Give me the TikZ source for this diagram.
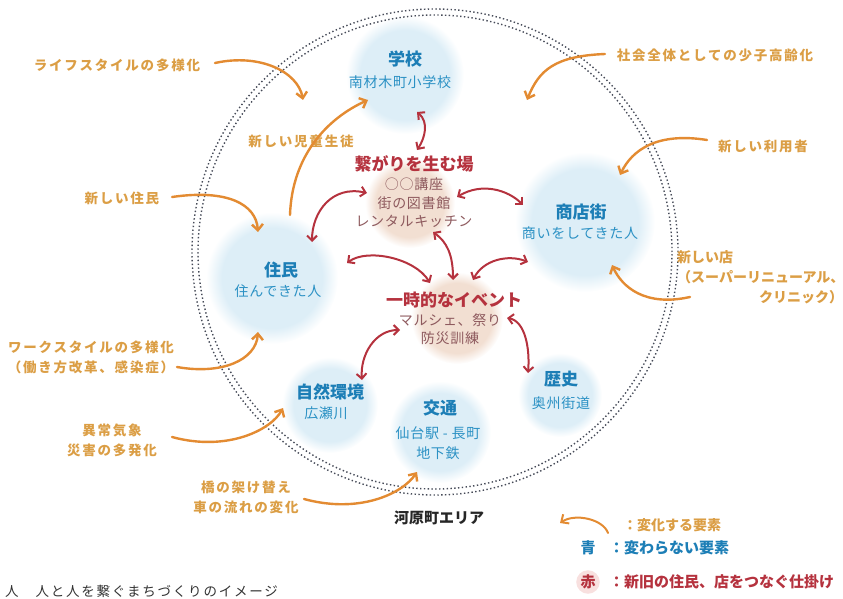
\documentclass[tikz,border=0pt]{standalone}
\usepackage{fontspec}
\setmainfont{Noto Sans CJK JP}
\newfontfamily\widefont[LetterSpace=13]{Noto Sans CJK JP}
\newfontfamily\subfont[LetterSpace=5]{Noto Sans CJK JP}
\usetikzlibrary{arrows.meta}
\pgfdeclarelayer{background}
\pgfsetlayers{background,main}
\definecolor{chgorange}{HTML}{DB9E45}
\definecolor{arrorange}{HTML}{E38B32}
\definecolor{keepblue}{HTML}{1C7EB6}
\definecolor{subblue}{HTML}{2B91C4}
\definecolor{linkred}{HTML}{B5323E}
\definecolor{subred}{HTML}{8E5A5E}
\definecolor{blobblue}{HTML}{DDEEF7}
\definecolor{blobbeige}{HTML}{F2DFD2}
\definecolor{ringgrey}{HTML}{464B58}
\definecolor{pinkmark}{HTML}{F8E0DF}
\pgfdeclareradialshading{blueblob}{\pgfpoint{0bp}{0bp}}{color(0bp)=(blobblue);
  color(19bp)=(blobblue); color(25bp)=(white); color(50bp)=(white)}
\pgfdeclareradialshading{beigeblob}{\pgfpoint{0bp}{0bp}}{color(0bp)=(blobbeige);
  color(19bp)=(blobbeige); color(25bp)=(white); color(50bp)=(white)}
\tikzstyle{bluehead}=[text=keepblue, font=\fontsize{17}{20}\selectfont\bfseries,
  inner sep=1pt]
\tikzstyle{bluesub}=[text=subblue, font=\fontsize{14}{20}\selectfont\subfont,
  align=center, inner sep=1pt]
\tikzstyle{redhead}=[text=linkred, font=\fontsize{17}{20}\selectfont\bfseries,
  inner sep=1pt]
\tikzstyle{redsub}=[text=subred, font=\fontsize{14}{18.5}\selectfont\subfont,
  align=center, inner sep=1pt]
\tikzstyle{change}=[text=chgorange,
  font=\fontsize{13.5}{20}\selectfont\widefont\bfseries, align=center, inner sep=1pt]
\tikzstyle{legendtxt}=[font=\fontsize{15}{17}\selectfont\bfseries, inner sep=1pt]
\tikzstyle{blob}=[circle, shade, inner sep=0pt]
\tikzstyle{ring}=[draw=ringgrey, line width=1.4pt, dash pattern=on 1.4pt off 2.4pt]
\tikzstyle{tie}=[draw=linkred, line width=2pt, line cap=round, <->,
  >={Straight Barb[length=5pt,width=10pt]}]
\tikzstyle{drift}=[draw=arrorange, line width=2.4pt, line cap=round, ->,
  >={Straight Barb[length=6pt,width=11pt]}]
\newcommand{\bluehead}[2]{node (#1) [bluehead] {#2}}
\newcommand{\bluesub}[2]{node (#1) [bluesub] {#2}}
\newcommand{\redhead}[2]{node (#1) [redhead] {#2}}
\newcommand{\redsub}[2]{node (#1) [redsub] {#2}}
\newcommand{\changelabel}[2]{node (#1) [change] {#2}}
\newcommand{\bgblob}[3]{node (#1) [blob, shading=#2, minimum size=#3] {}}

\begin{document}
\begin{tikzpicture}[x=1pt, y=-1pt]
\useasboundingbox (0,0) rectangle (843,599);
% Background blobs and area ring
\begin{pgfonlayer}{background}
  \path (405,75)  \bgblob{bSchool}{blueblob}{118pt};
  \path (585,222) \bgblob{bShop}{blueblob}{140pt};
  \path (272,278) \bgblob{bRes}{blueblob}{132pt};
  \path (330,405) \bgblob{bNature}{blueblob}{96pt};
  \path (440,432) \bgblob{bTraffic}{blueblob}{102pt};
  \path (560,395) \bgblob{bHistory}{blueblob}{84pt};
  \path (410,203) \bgblob{bHub}{beigeblob}{90pt};
  \path (457,318) \bgblob{bEvent}{beigeblob}{92pt};
\end{pgfonlayer}
\path [ring] (435,252) circle [radius=243pt];
\path [ring] (435,252) circle [radius=237pt];

% Draw diagram elements
\path (405,59)  \bluehead{school}{学校};
\path (400,82)  \bluesub{schoolsub}{南材木町小学校};
\path (414,164) \redhead{hub}{繋がりを生む場};
\path (414,203) \redsub{hubsub}{○○講座\\街の図書館\\レンタルキッチン};
\path (581,212) \bluehead{shop}{商店街};
\path (580,233) \bluesub{shopsub}{商いをしてきた人};
\path (281,270) \bluehead{res}{住民};
\path (278,291) \bluesub{ressub}{住んできた人};
\path (454,300) \redhead{event}{一時的なイベント};
\path (450,329) \redsub{eventsub}{マルシェ、祭り\\防災訓練};
\path (330,392) \bluehead{nature}{自然環境};
\path (326,413) \bluesub{naturesub}{広瀬川};
\path (440,408) \bluehead{traffic}{交通};
\path (438,443) \bluesub{trafficsub}{仙台駅 - 長町\\地下鉄};
\path (561,379) \bluehead{history}{歴史};
\path (561,403) \bluesub{historysub}{奥州街道};
\path (439,518) node (area) [legendtxt, text=black!85] {河原町エリア};

% Changing factors
\path (117,65)  \changelabel{lifestyle}{ライフスタイルの多様化};
\path (715,55)  \changelabel{aging}{社会全体としての少子高齢化};
\path (763,146) \changelabel{newusers}{新しい利用者};
\path (301,141) \changelabel{newpupils}{新しい児童生徒};
\path (122,198) \changelabel{newres}{新しい住民};
\path (91,357)  \changelabel{workstyle}{ワークスタイルの多様化\\（働き方改革、感染症）};
\path (112,440) \changelabel{climate}{異常気象\\災害の多発化};
\path (246,497) \changelabel{bridge}{橋の架け替え\\車の流れの変化};
\path (676,249) node (newshop) [change, anchor=north west, align=left,
  text width=166pt, font=\fontsize{14}{20}\selectfont\bfseries]
  {新しい店\\（スーパーリニューアル、\\\hfill クリニック）};

% Draw arrows between elements
\path [tie] ([shift={(17,30)}]schoolsub.center) .. controls +(12,10) and +(8,-12)
  .. ([shift={(3,-14)}]hub.center);
\path [tie] ([shift={(-47,-10)}]hubsub.center) .. controls +(-35,-8) and +(0,-30)
  .. ([shift={(31,-28)}]res.center);
\path [tie] ([shift={(43,-6)}]hubsub.center) .. controls +(25,-15) and +(-15,-15)
  .. ([shift={(-58,-7)}]shop.center);
\path [tie] ([shift={(19,29)}]hubsub.center) .. controls +(14,10) and +(0,-25)
  .. ([shift={(-1,-20)}]event.center);
\path [tie] ([shift={(66,-7)}]res.center) .. controls +(20,-15) and +(-15,-25)
  .. ([shift={(-24,-17)}]event.center);
\path [tie] ([shift={(19,-20)}]event.center) .. controls +(10,-20) and +(-20,-8)
  .. ([shift={(-52,29)}]shopsub.center);
\path [tie] ([shift={(-50,1)}]eventsub.center) .. controls +(-25,0) and +(-2,-25)
  .. ([shift={(32,-12)}]nature.center);
\path [tie] ([shift={(57,-11)}]eventsub.center) .. controls +(18,3) and +(2,-25)
  .. ([shift={(-33,-6)}]history.center);

% Arrows for changing factors
\path [drift] ([shift={(98,-2)}]lifestyle.center) .. controls +(45,-10) and +(-5,-28)
  .. ([shift={(-102,41)}]school.center);
\path [drift] ([shift={(-110,-1)}]aging.center) .. controls +(-50,2) and +(12,-30)
  .. ([shift={(122,41)}]school.center);
\path [drift] ([shift={(-56,-6)}]newusers.center) .. controls +(-50,-8) and +(12,-25)
  .. ([shift={(39,-37)}]shop.center);
\path [drift] ([shift={(9,-55)}]res.center) .. controls +(2,-60) and +(-40,18)
  .. ([shift={(-32,18)}]schoolsub.center);
\path [drift] ([shift={(50,-1)}]newres.center) .. controls +(55,-8) and +(-2,-28)
  .. ([shift={(-23,-38)}]res.center);
\path [drift] ([shift={(86,10)}]workstyle.center) .. controls +(45,8) and +(-2,28)
  .. ([shift={(-20,41)}]ressub.center);
\path [drift] ([shift={(60,-3)}]climate.center) .. controls +(55,15) and +(-12,22)
  .. ([shift={(-47,16)}]nature.center);
\path [drift] ([shift={(58,2)}]bridge.center) .. controls +(55,15) and +(-15,22)
  .. ([shift={(-21,29)}]trafficsub.center);
\path [drift] ([shift={(14,48)}]newshop.north west) .. controls +(-45,10) and +(10,22)
  .. ([shift={(32,32)}]shopsub.center);

% Legend
\path (672,525) node (legendchg) [change, font=\fontsize{14}{16}\selectfont\bfseries]
  {：変化する要素};
\path [drift, line width=2pt] ([shift={(-64,8)}]legendchg.center) .. controls +(-5,-14)
  and +(15,-10) .. ([shift={(-112,-2)}]legendchg.center);
\path (588,548) node (bluemark) [legendtxt, text=keepblue] {青};
\path (608,548) node (bluetxt) [legendtxt, text=keepblue, anchor=west] {：変わらない要素};
\path (588,582) node (redmark) [legendtxt, text=linkred, circle, fill=pinkmark] {赤};
\path (608,582) node (redtxt) [legendtxt, text=linkred, anchor=west]
  {：新旧の住民、店をつなぐ仕掛け};

% Caption
\path (5,591) node (caption) [anchor=west, inner sep=0pt, text=black!80,
  font=\fontsize{13.5}{16}\selectfont\widefont] {人　人と人を繋ぐまちづくりのイメージ};
\end{tikzpicture}
\end{document}
